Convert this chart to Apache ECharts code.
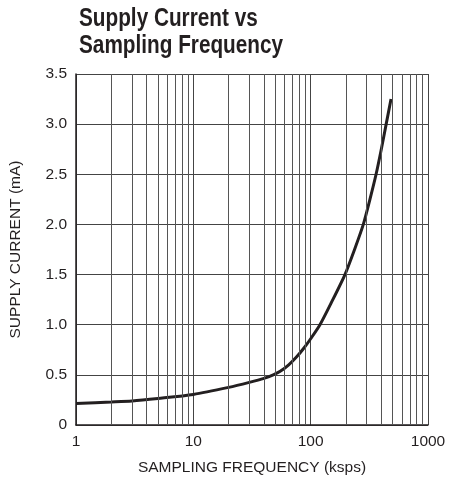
<!DOCTYPE html>
<html>
<head>
<meta charset="utf-8">
<script src="https://cdn.jsdelivr.net/npm/echarts@6/dist/echarts.min.js"></script>
<style>
  html, body { margin: 0; padding: 0; background: #fff; }
  #chart { width: 449px; height: 483px; }
</style>
</head>
<body>
<div id="chart"></div>
<script>
// curve: sampling frequency (ksps) vs supply current (mA)
const freq = [1, 2, 3, 5, 10, 20, 30, 40, 48, 55, 65, 76, 88, 100, 120, 150, 196, 240, 281, 320, 361, 400, 440, 484];
const current = [0.215, 0.23, 0.24, 0.265, 0.305, 0.375, 0.425, 0.465, 0.5, 0.535, 0.6, 0.68, 0.77, 0.86, 1.0, 1.22, 1.5, 1.77, 2.0, 2.25, 2.5, 2.75, 3.0, 3.25];

// minor log grid lines (2..9 in each decade)
const minorGrid = [2, 3, 4, 5, 6, 7, 8, 9, 20, 30, 40, 50, 60, 70, 80, 90, 200, 300, 400, 500, 600, 700, 800, 900];

const titleLines = ['Supply Current vs', 'Sampling Frequency'];

const font = 'Liberation Sans, Arial, sans-serif';
const ink = '#231f20';
const chart = echarts.init(document.getElementById('chart'));

chart.setOption({
  animation: false,
  // condensed bold title: squeeze a regular bold face horizontally
  graphic: titleLines.map((t, i) => ({
    type: 'text',
    x: 79,
    y: 7 + i * 27,
    scaleX: 0.83,
    style: {
      text: t,
      fill: ink,
      font: 'bold 25px ' + font,
      textVerticalAlign: 'top'
    }
  })),
  grid: { left: 76, right: 21, top: 74, bottom: 58 },
  xAxis: {
    type: 'log',
    logBase: 10,
    min: 1,
    max: 1000,
    name: 'SAMPLING FREQUENCY (ksps)',
    nameLocation: 'middle',
    nameGap: 35,
    nameTextStyle: { fontFamily: font, fontSize: 15.5, color: ink },
    axisLine: { lineStyle: { color: ink, width: 1.5 } },
    axisTick: { show: false },
    axisLabel: { fontFamily: font, fontSize: 15.5, color: ink, margin: 9, formatter: v => String(v) },
    splitLine: { show: true, lineStyle: { color: '#444', width: 1 } }
  },
  yAxis: {
    type: 'value',
    min: 0,
    max: 3.5,
    interval: 0.5,
    name: 'SUPPLY CURRENT (mA)',
    nameLocation: 'middle',
    nameGap: 52,
    nameTextStyle: { fontFamily: font, fontSize: 15.5, color: ink },
    axisLine: { show: true, lineStyle: { color: ink, width: 1.5 } },
    axisTick: { show: false },
    axisLabel: {
      fontFamily: font, fontSize: 15.5, color: ink, margin: 9,
      formatter: v => (v === 0 ? '0' : v.toFixed(1))
    },
    splitLine: { show: true, lineStyle: { color: '#444', width: 1 } }
  },
  series: [
    {
      type: 'line',
      data: [],
      silent: true,
      markLine: {
        silent: true,
        symbol: 'none',
        label: { show: false },
        lineStyle: { color: '#555', width: 1, type: 'solid' },
        data: minorGrid.map(v => ({ xAxis: v }))
      }
    },
    {
      type: 'line',
      data: freq.map((f, i) => [f, current[i]]),
      smooth: 0.25,
      showSymbol: false,
      lineStyle: { color: ink, width: 3 }
    }
  ]
});
</script>
</body>
</html>
